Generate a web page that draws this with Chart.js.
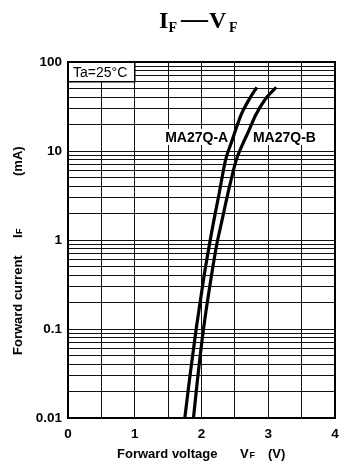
<!DOCTYPE html>
<html>
<head>
<meta charset="utf-8">
<script src="https://cdn.jsdelivr.net/npm/chart.js@4.4.1/dist/chart.umd.min.js"></script>
<style>
  body { margin: 0; background: #fff; }
  #wrap { width: 349px; height: 473px; position: relative; }
</style>
</head>
<body>
<div id="wrap"><canvas id="myChart"></canvas></div>
<script>
// forward current (mA) and the forward voltage (V) of each curve
const currentsMA = [0.01, 0.027, 0.1, 0.36, 0.9, 1.45, 3.2, 7.9, 12.6, 16.3, 25.2, 38.7, 52];
const voltsA = [1.75, 1.82, 1.92, 2.03, 2.12, 2.17, 2.26, 2.36, 2.45, 2.50, 2.59, 2.72, 2.83];
const voltsB = [1.88, 1.94, 2.03, 2.14, 2.23, 2.29, 2.39, 2.52, 2.63, 2.70, 2.81, 2.96, 3.12];

const seriesNames = ["MA27Q-A", "MA27Q-B"];
const xTickLabels = ["0", "1", "2", "3", "4"];
const yDecades = [0.01, 0.1, 1, 10, 100];
const yTickLabels = ["0.01", "0.1", "1", "10", "100"];
const gridSteps = [1, 2, 3, 4, 5, 6, 7, 8, 9];

const SANS = '"Liberation Sans", Arial, sans-serif';
const SERIF = '"Liberation Serif", "Times New Roman", serif';

// log grid: 1..9 in each decade
let yGrid = [];
for (let i = 0; i < yDecades.length - 1; i++) {
  gridSteps.forEach((m) => yGrid.push(yDecades[i] * m));
}
yGrid.push(yDecades[yDecades.length - 1]);

function toPoints(volts) {
  return volts.map((v, i) => ({ x: v, y: currentsMA[i] }));
}

// draw text pieces with a subscript, left to right
function drawPieces(ctx, pieces, y) {
  pieces.forEach((p) => {
    ctx.font = p.font;
    ctx.fillText(p.text, p.x, y + (p.dy || 0));
  });
}

const extras = {
  id: "extras",
  beforeDraw(chart) {
    const ctx = chart.ctx;
    ctx.save();
    ctx.fillStyle = "#fff";
    ctx.fillRect(0, 0, chart.width, chart.height);
    ctx.restore();
  },
  beforeDatasetsDraw(chart) {
    const ctx = chart.ctx;
    const xs = chart.scales.x, ys = chart.scales.y;
    ctx.save();
    ctx.fillStyle = "#000";
    ctx.textBaseline = "middle";

    // curve labels on white
    ctx.font = "bold 14px " + SANS;
    const labY = ys.getPixelForValue(14.4);
    const wA = ctx.measureText(seriesNames[0]).width;
    const xA = xs.getPixelForValue(2.40) - wA;
    const wB = ctx.measureText(seriesNames[1]).width;
    const xB = xs.getPixelForValue(2.77);
    ctx.fillStyle = "#fff";
    ctx.fillRect(xA - 2, labY - 8, wA + 4, 16);
    ctx.fillRect(xB - 2, labY - 8, wB + 4, 16);
    ctx.fillStyle = "#000";
    ctx.fillText(seriesNames[0], xA, labY + 1);
    ctx.fillText(seriesNames[1], xB, labY + 1);

    // Ta box
    const bx0 = xs.getPixelForValue(0), bx1 = xs.getPixelForValue(1);
    const by0 = ys.getPixelForValue(100), by1 = ys.getPixelForValue(60);
    ctx.fillStyle = "#fff";
    ctx.fillRect(bx0, by0, bx1 - bx0, by1 - by0);
    ctx.strokeStyle = "#000";
    ctx.lineWidth = 1.5;
    ctx.strokeRect(bx0, by0, bx1 - bx0, by1 - by0);
    ctx.fillStyle = "#000";
    ctx.font = "14px " + SANS;
    ctx.fillText("Ta=25\u00B0C", bx0 + 5, (by0 + by1) / 2 + 1);
    ctx.restore();
  },
  afterDraw(chart) {
    const ctx = chart.ctx;
    const a = chart.chartArea;
    ctx.save();
    ctx.strokeStyle = "#000";
    ctx.lineWidth = 2;
    ctx.strokeRect(a.left, a.top, a.right - a.left, a.bottom - a.top);

    ctx.fillStyle = "#000";
    ctx.textBaseline = "alphabetic";
    ctx.textAlign = "left";

    // title I_F - V_F
    drawPieces(ctx, [
      { text: "I", x: 159, font: "bold 24px " + SERIF },
      { text: "F", x: 168.5, font: "bold 14px " + SERIF, dy: 4 },
      { text: "\u2014", x: 181, font: "bold 27px " + SERIF, dy: -1 },
      { text: "V", x: 209, font: "bold 24px " + SERIF },
      { text: "F", x: 229, font: "bold 14px " + SERIF, dy: 4 }
    ], 28);

    // x axis title
    ctx.textBaseline = "middle";
    drawPieces(ctx, [
      { text: "Forward voltage", x: 117, font: "bold 13px " + SANS },
      { text: "V", x: 240, font: "bold 13px " + SANS },
      { text: "F", x: 249.5, font: "bold 9px " + SANS, dy: 2 },
      { text: "(V)", x: 268, font: "bold 13px " + SANS }
    ], 454);

    // y axis title, rotated
    ctx.translate(18, 0);
    ctx.rotate(-Math.PI / 2);
    drawPieces(ctx, [
      { text: "Forward current", x: -355, font: "bold 13px " + SANS },
      { text: "I", x: -238, font: "bold 13px " + SANS },
      { text: "F", x: -234, font: "bold 9px " + SANS, dy: 2 },
      { text: "(mA)", x: -176, font: "bold 13px " + SANS }
    ], 0);
    ctx.restore();
  }
};

const curveStyle = {
  borderColor: "#000",
  borderWidth: 3.2,
  pointRadius: 0,
  fill: false,
  cubicInterpolationMode: "monotone"
};

const ctx = document.getElementById("myChart").getContext("2d");
const myChart = new Chart(ctx, {
  type: "line",
  data: {
    datasets: [
      Object.assign({ label: seriesNames[0], data: toPoints(voltsA) }, curveStyle),
      Object.assign({ label: seriesNames[1], data: toPoints(voltsB) }, curveStyle)
    ]
  },
  options: {
    responsive: true,
    maintainAspectRatio: false,
    animation: false,
    layout: { padding: { top: 62, right: 14, left: 0, bottom: 0 } },
    plugins: {
      legend: { display: false },
      tooltip: { enabled: false },
      title: { display: false }
    },
    scales: {
      x: {
        type: "linear",
        min: 0,
        max: 4,
        afterFit(scale) { scale.height = 55; },
        grid: { color: "#111", lineWidth: 1, drawTicks: false },
        border: { display: false },
        ticks: {
          stepSize: 0.5,
          autoSkip: false,
          maxRotation: 0,
          padding: 8,
          color: "#000",
          font: { family: SANS, size: 13.5, weight: "bold" },
          callback: (value) => Number.isInteger(value) ? xTickLabels[value] : ""
        }
      },
      y: {
        type: "logarithmic",
        min: 0.01,
        max: 100,
        afterFit(scale) { scale.width = 68; },
        afterBuildTicks(scale) {
          scale.ticks = yGrid.map((v) => ({ value: v }));
        },
        grid: { color: "#111", lineWidth: 1, drawTicks: false },
        border: { display: false },
        ticks: {
          autoSkip: false,
          padding: 6,
          color: "#000",
          font: { family: SANS, size: 13.5, weight: "bold" },
          callback: (value) => {
            const i = yDecades.findIndex((d) => Math.abs(value / d - 1) < 1e-6);
            return i >= 0 ? yTickLabels[i] : "";
          }
        }
      }
    }
  },
  plugins: [extras]
});
</script>
</body>
</html>
